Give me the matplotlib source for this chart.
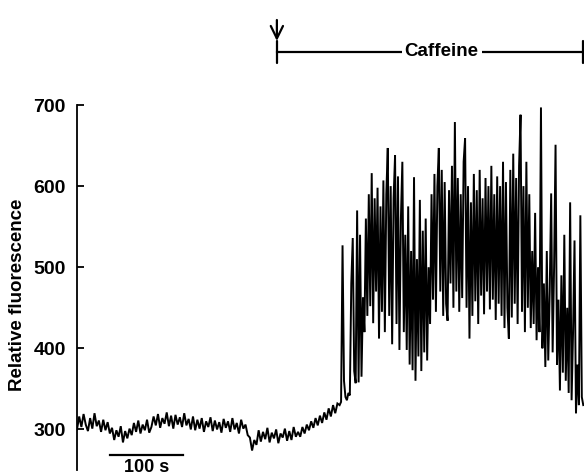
import numpy as np
import matplotlib
matplotlib.use('Agg')
import matplotlib.pyplot as plt

plt.rcParams['font.family'] = ['Liberation Sans', 'DejaVu Sans']
plt.rcParams['font.weight'] = 'bold'

# resting fluorescence, one reading every 3 s from t = 0
rest_dt = 3.0
rest_f = [300, 316, 303, 319, 306, 298, 314, 301, 320, 304, 311,
          297, 312, 299, 309, 295,
          302, 287, 299, 291, 304, 284, 298, 289, 301,
          293, 308, 297, 311, 295, 306, 299, 312, 296,
          303, 316, 305, 319, 302, 314, 307, 321, 304, 317,
          301, 318, 306, 315, 303, 320, 305, 313, 300, 316,
          299, 312, 301, 314, 297, 310, 303, 315, 298, 311, 300, 309,
          296, 313, 302, 310, 297, 314, 300, 308, 295, 312, 301,
          306, 293, 290, 274, 287, 281,
          299, 285, 297, 288, 302, 284, 296, 289, 300, 283,
          295, 290, 301, 286, 298, 287, 303, 291, 297,
          291, 303, 295, 306, 299, 310, 302, 314, 305,
          317, 308, 321, 312, 326, 316, 330, 320, 332]

# oscillating phase, one reading every 2 s from t = 360 s
osc_t0 = 360.0
osc_dt = 2.0
osc_f = [330, 334, 527, 360, 340, 336, 345, 342, 480, 536,
         372, 357, 570, 358, 540, 365, 463, 420, 560, 440,
         590, 452, 616, 431, 585, 470, 598, 412, 575, 445,
         607, 420, 590, 647, 440, 600, 405, 585, 638, 430,
         612, 398, 560, 630, 420, 540, 398, 575, 380, 520,
         373, 611, 360, 510, 390, 583, 372, 545, 395, 560,
         385, 500, 430, 590, 460, 615, 445, 600, 647, 470,
         620, 440, 605, 455, 434, 595, 480, 625, 450, 679,
         470, 610, 445, 590, 462, 630, 659, 450, 600, 412,
         580, 440, 615, 458, 595, 430, 620, 465, 585, 442,
         610, 470, 600, 448, 625, 460, 590, 435, 612, 455,
         600, 440, 630, 425, 605, 450, 412, 620, 438, 640,
         455, 610, 430, 625, 688, 445, 600, 420, 630, 450,
         590, 425, 520, 430, 567, 410, 500, 420, 697, 400,
         480, 377, 520, 385, 470, 591, 395, 500, 651, 380,
         460, 348, 490, 370, 540, 360, 450, 345, 580, 336,
         420, 533, 320, 380, 330, 564, 340, 330]

caffeine_on = 274      # s
caffeine_off = 693     # s
scale_bar = (45, 145)  # 100 s

t = np.concatenate([rest_dt * np.arange(len(rest_f)),
                    osc_t0 + osc_dt * np.arange(len(osc_f))])
f = np.concatenate([rest_f, osc_f])

fig = plt.figure(figsize=(5.84, 4.75), dpi=100)
ax = fig.add_axes([77 / 584, 5 / 475, 507 / 584, 365 / 475])
ax.plot(t, f, color='black', lw=1.4, solid_joinstyle='miter')

ax.set_xlim(0, 695)
ax.set_ylim(250, 700)
for s in ['top', 'right', 'bottom']:
    ax.spines[s].set_visible(False)
ax.spines['left'].set_linewidth(1.3)
ax.set_xticks([])
ax.set_yticks([300, 400, 500, 600, 700])
ax.tick_params(axis='y', direction='in', length=5, width=1.3, pad=8,
               labelsize=14)

fig.text(18 / 584, (475 - 295) / 475, 'Relative fluorescence',
         rotation=90, ha='center', va='center', fontsize=13.5)

# 100 s scale bar
ax.plot(scale_bar, [268, 268], color='black', lw=1.6, clip_on=False)
ax.text(np.mean(scale_bar), 263, '100 s', ha='center', va='top',
        fontsize=13, clip_on=False)

# caffeine application bar with arrow
bar_y = (475 - 52) / 475
ax.annotate('', xy=(caffeine_on, (475 - 41) / 475),
            xytext=(caffeine_on, (475 - 20) / 475),
            xycoords=('data', 'figure fraction'),
            textcoords=('data', 'figure fraction'),
            arrowprops=dict(arrowstyle='->,head_length=0.45,head_width=0.22',
                            color='black', lw=1.6, mutation_scale=20,
                            shrinkA=0, shrinkB=0))
ax.annotate('', xy=(caffeine_off, bar_y), xytext=(caffeine_on, bar_y),
            xycoords=('data', 'figure fraction'),
            textcoords=('data', 'figure fraction'),
            arrowprops=dict(arrowstyle='|-|', color='black', lw=1.6,
                            mutation_scale=8, shrinkA=0, shrinkB=0))
ax.annotate('Caffeine', xy=(500, bar_y),
            xycoords=('data', 'figure fraction'),
            ha='center', va='center', fontsize=13.5,
            bbox=dict(boxstyle='square,pad=0.15', fc='white', ec='none'))

fig.savefig('out.png', dpi=100)
